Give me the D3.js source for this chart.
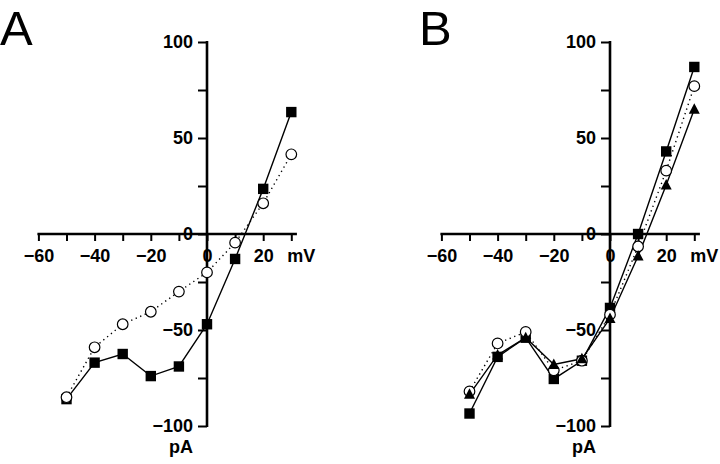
<!DOCTYPE html>
<html>
<head>
<meta charset="utf-8">
<script src="https://cdn.jsdelivr.net/npm/d3@7"></script>
<style>
  html, body { margin: 0; padding: 0; background: #fff; }
  svg { display: block; }
  text { font-family: "Liberation Sans", Arial, Helvetica, sans-serif; }
</style>
</head>
<body>
<svg id="chart" width="720" height="464"></svg>
<script>
// ---- data ----
const voltages = [-50, -40, -30, -20, -10, 0, 10, 20, 30];
const xTickValues = [-60, -50, -40, -30, -20, -10, 0, 10, 20, 30];
const xTickLabels = ["-60", "", "-40", "", "-20", "", "0", "", "20", ""];
const yTickValues = [-100, -75, -50, -25, 0, 25, 50, 75, 100];
const yTickLabels = ["-100", "", "-50", "", "0", "", "50", "", "100"];

// Panel A
const aSquares = [-86, -67, -62.5, -74, -69, -47, -13, 23.5, 63.5];
const aCircles = [-85, -59, -47, -40.5, -30, -20, -4.5, 16, 41.5];
// Panel B
const bSquares = [-93.5, -64, -54, -75.5, -66, -38.5, 0, 43, 87];
const bCircles = [-82, -57, -51, -71, -66, -42, -6.5, 33, 77];
const bTriangles = [-83.5, -63, -54, -68, -65, -44, -11.5, 25.5, 65];

const panels = [
  { letter: "A", letterX: 0, x0: 207, series: [
      { values: aSquares, marker: "square", dash: null },
      { values: aCircles, marker: "circle", dash: "1.3,3.6" }
  ]},
  { letter: "B", letterX: 419, x0: 610, series: [
      { values: bSquares, marker: "square", dash: null },
      { values: bCircles, marker: "circle", dash: "1.3,3.6" },
      { values: bTriangles, marker: "triangle", dash: null }
  ]}
];

const svg = d3.select("#chart");
const pxPerMv = 2.81;
const y = d3.scaleLinear().domain([-100, 100]).range([426, 42]);
const FS = 18;

panels.forEach(p => {
  const g = svg.append("g");
  const x = d3.scaleLinear().domain([-60, 30]).range([p.x0 - 60 * pxPerMv, p.x0 + 30 * pxPerMv]);

  // panel letter
  g.append("text").attr("x", p.letterX).attr("y", 44.5)
    .attr("font-size", 49).attr("fill", "#000").text(p.letter);

  // x axis
  const xAxis = d3.axisBottom(x).tickValues(xTickValues)
    .tickSize(7).tickSizeOuter(0).tickPadding(8)
    .tickFormat((d, i) => xTickLabels[i].replace("-", "\u2212"));
  const gx = g.append("g").attr("transform", `translate(0,${y(0)})`).call(xAxis);
  gx.select(".domain").remove();
  gx.selectAll(".tick line").attr("stroke", "#000").attr("stroke-width", 2);
  gx.selectAll(".tick text").attr("font-size", FS).attr("font-weight", "bold").attr("fill", "#000");
  g.append("line").attr("x1", x(-60) - 1).attr("x2", x(32)).attr("y1", y(0)).attr("y2", y(0))
    .attr("stroke", "#000").attr("stroke-width", 2.6);

  // y axis
  const yAxis = d3.axisLeft(y).tickValues(yTickValues)
    .tickSize(9).tickSizeOuter(0).tickPadding(5)
    .tickFormat((d, i) => yTickLabels[i].replace("-", "\u2212"));
  const gy = g.append("g").attr("transform", `translate(${x(0)},0)`).call(yAxis);
  gy.select(".domain").remove();
  gy.selectAll(".tick line").attr("stroke", "#000").attr("stroke-width", 2);
  gy.selectAll(".tick text").attr("font-size", FS).attr("font-weight", "bold").attr("fill", "#000");
  g.append("line").attr("x1", x(0)).attr("x2", x(0)).attr("y1", y(100) - 1).attr("y2", y(-100) + 1)
    .attr("stroke", "#000").attr("stroke-width", 2.6);

  // unit labels
  g.append("text").attr("x", x(30) + 10).attr("y", 262).attr("text-anchor", "middle")
    .attr("font-size", FS).attr("font-weight", "bold").text("mV");
  g.append("text").attr("x", x(0) - 26).attr("y", 453).attr("text-anchor", "middle")
    .attr("font-size", FS).attr("font-weight", "bold").text("pA");

  const line = d3.line().x((d, i) => x(voltages[i])).y(d => y(d));

  // lines
  p.series.forEach(s => {
    g.append("path").datum(s.values).attr("d", line)
      .attr("fill", "none").attr("stroke", "#000").attr("stroke-width", 1.4)
      .attr("stroke-dasharray", s.dash);
  });

  // markers
  p.series.forEach(s => {
    const mg = g.append("g");
    s.values.forEach((v, i) => {
      const cx = x(voltages[i]), cy = y(v);
      if (s.marker === "square") {
        mg.append("rect").attr("x", cx - 5.2).attr("y", cy - 5.2).attr("width", 10.4).attr("height", 10.4)
          .attr("fill", "#000");
      } else if (s.marker === "circle") {
        mg.append("circle").attr("cx", cx).attr("cy", cy).attr("r", 5.3)
          .attr("fill", "#fff").attr("stroke", "#000").attr("stroke-width", 1.2);
      } else {
        mg.append("path").attr("d", `M${cx},${cy - 6}L${cx + 5.5},${cy + 4.5}L${cx - 5.5},${cy + 4.5}Z`)
          .attr("fill", "#000");
      }
    });
  });
});
</script>
</body>
</html>
